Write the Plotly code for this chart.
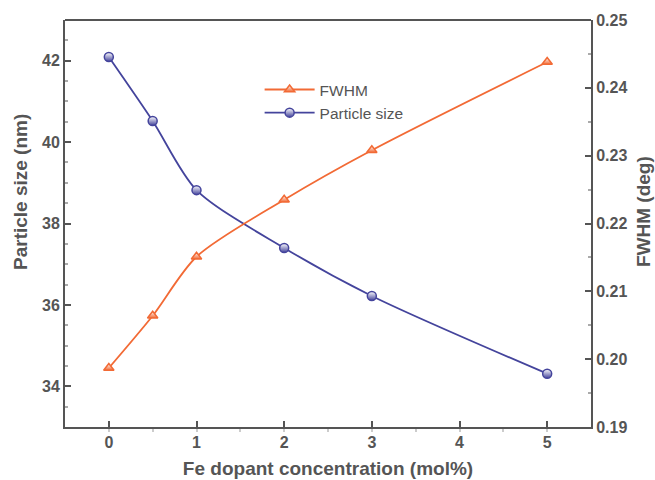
import plotly.graph_objects as go

conc = [0, 0.5, 1, 2, 3, 5]
particle_size = [42.09, 40.52, 38.82, 37.40, 36.22, 34.31]
fwhm = [0.1987, 0.2064, 0.2151, 0.2235, 0.2308, 0.2438]

orange = "#F26A35"
blue = "#44449C"
axis_col = "#555555"
font_fam = "Liberation Sans, Arial, sans-serif"

fig = go.Figure()
fig.add_trace(go.Scatter(
    x=conc, y=fwhm, name="FWHM", yaxis="y2",
    mode="lines+markers", line=dict(color=orange, width=1.8, shape="spline", smoothing=0.8),
    marker=dict(symbol="triangle-up", size=9, color="white",
                gradient=dict(type="vertical", color=orange),
                line=dict(color=orange, width=1.5)),
))
fig.add_trace(go.Scatter(
    x=conc, y=particle_size, name="Particle size", yaxis="y",
    mode="lines+markers", line=dict(color=blue, width=1.8, shape="spline", smoothing=0.8),
    marker=dict(symbol="circle", size=9, color="white",
                gradient=dict(type="vertical", color=blue),
                line=dict(color=blue, width=1.5)),
))

tickfont = dict(family=font_fam, size=16, color=axis_col, weight="bold")
xtitlefont = dict(family=font_fam, size=19, color=axis_col, weight="bold")
ytitlefont = dict(family=font_fam, size=19, color=axis_col, weight="bold")

W, H = 655, 480
ml, mr, mt, mb = 65, 64, 20, 53
pw, ph = W - ml - mr, H - mt - mb

def px_to_paper_y(py):
    return (H - mb - py) / ph

def px_to_paper_x(px):
    return (px - ml) / pw

fig.update_layout(
    width=W, height=H,
    margin=dict(l=ml, r=mr, t=mt, b=mb, autoexpand=False),
    plot_bgcolor="white", paper_bgcolor="white",
    showlegend=True,
    legend=dict(x=0.37, y=0.87, xanchor="left", yanchor="top",
                bgcolor="rgba(0,0,0,0)", font=dict(family=font_fam, size=15.5, color=axis_col),
                itemwidth=50, tracegroupgap=0),
    xaxis=dict(range=[-0.5, 5.5], tickvals=[0, 1, 2, 3, 4, 5], ticks="inside", ticklen=6,
               tickwidth=2, tickcolor=axis_col, showline=True, linecolor=axis_col, linewidth=2,
               automargin=False,
               mirror=False, showgrid=False, zeroline=False, tickfont=tickfont,
               minor=dict(dtick=0.5, ticks="outside", ticklen=3, tickcolor="#cccccc"),
               title=dict(text="Fe dopant concentration (mol%)", font=xtitlefont, standoff=11)),
    yaxis=dict(range=[33, 43], tickvals=[34, 36, 38, 40, 42], ticks="inside", ticklen=6,
               tickwidth=2, tickcolor=axis_col, showline=True, linecolor=axis_col, linewidth=2,
               automargin=False,
               showgrid=False, zeroline=False, tickfont=tickfont,
               minor=dict(dtick=0.5, ticks="inside", ticklen=3, tickcolor="#aaaaaa")),
    yaxis2=dict(range=[0.19, 0.25], tickvals=[0.19, 0.20, 0.21, 0.22, 0.23, 0.24, 0.25],
                tickformat=".2f", overlaying="y", side="right", ticks="inside", ticklen=6,
                tickwidth=2, tickcolor=axis_col, showline=True, linecolor=axis_col, linewidth=2,
                automargin=False,
                showgrid=False, zeroline=False, tickfont=tickfont,
                minor=dict(dtick=0.005, ticks="inside", ticklen=3, tickcolor="#aaaaaa")),
)
fig.add_annotation(text="Particle size (nm)", textangle=-90, showarrow=False,
                   xref="paper", yref="paper", x=px_to_paper_x(20), y=px_to_paper_y(192),
                   xanchor="center", yanchor="middle", font=ytitlefont)
fig.add_annotation(text="FWHM (deg)", textangle=-90, showarrow=False,
                   xref="paper", yref="paper", x=px_to_paper_x(643), y=px_to_paper_y(212),
                   xanchor="center", yanchor="middle", font=ytitlefont)
fig.add_shape(type="line", xref="paper", yref="paper", x0=0, x1=1, y0=1, y1=1,
              line=dict(color=axis_col, width=2))

fig.write_html("out.html")
